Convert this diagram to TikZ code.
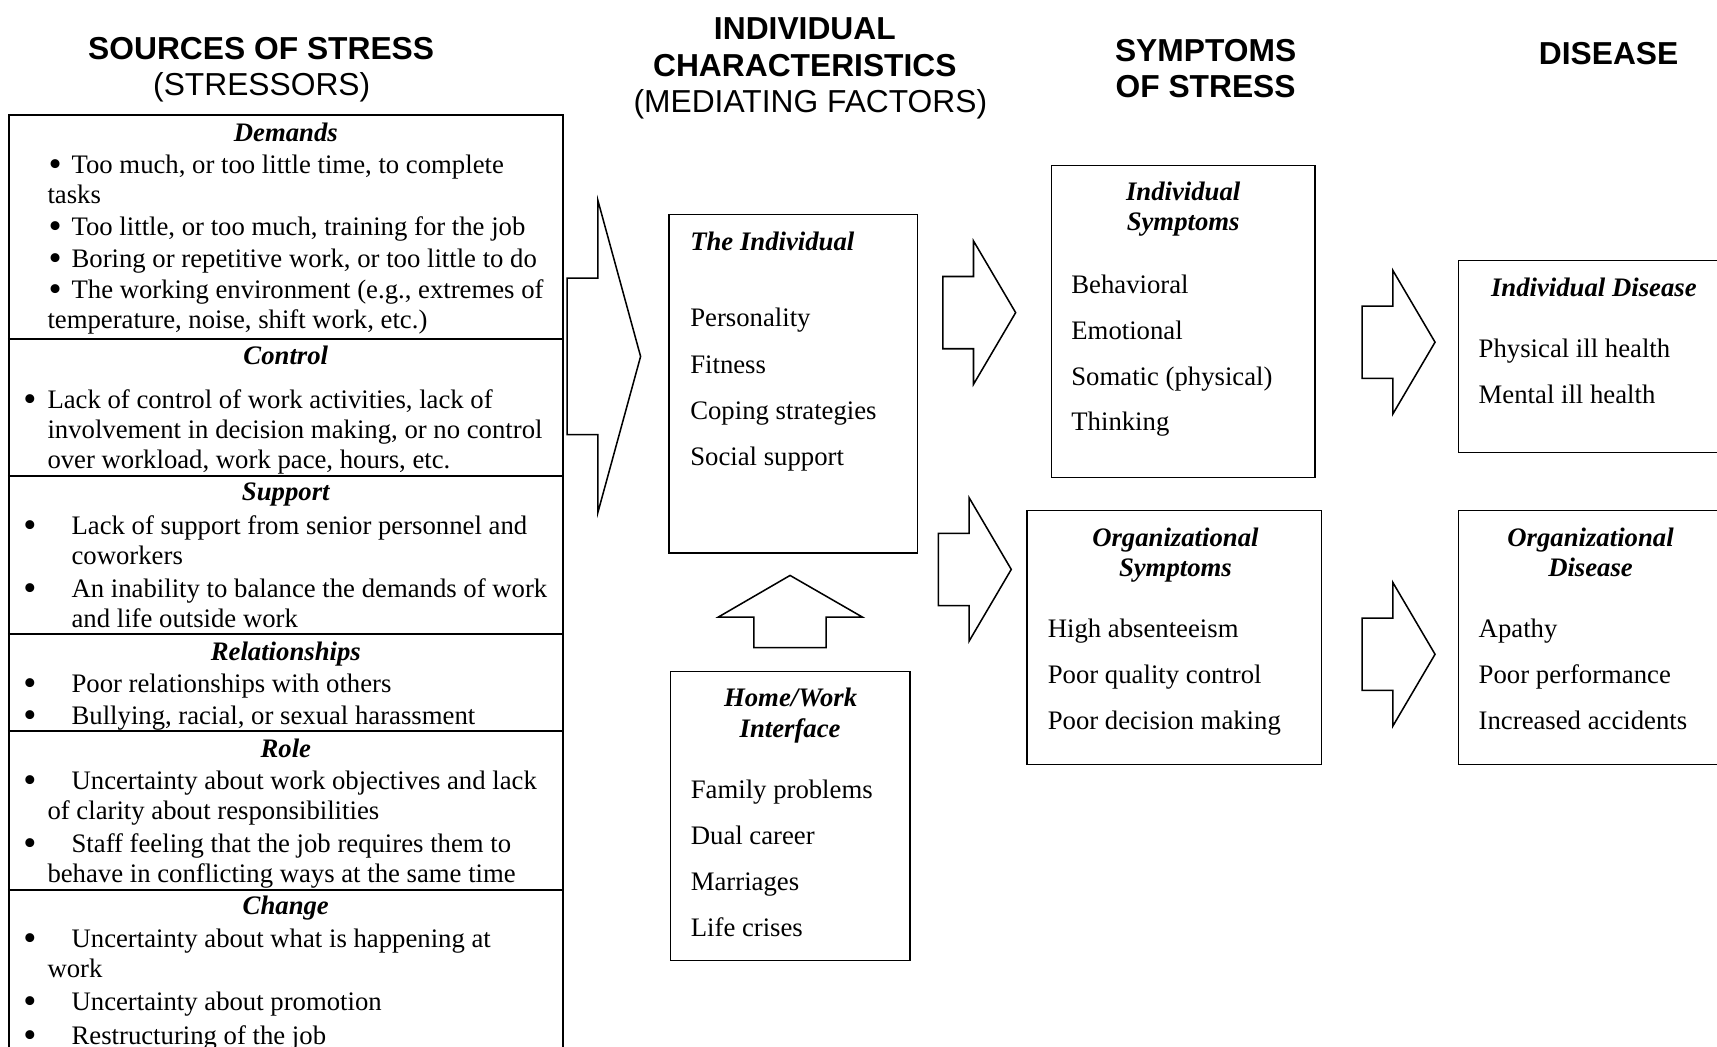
\documentclass[tikz,border=0pt]{standalone}
\usepackage{fontspec}
\setmainfont{Liberation Serif}
\newfontfamily\hdfont{Liberation Sans}
\usetikzlibrary{fit}

% bullet set in a box of given width, text follows
\newcommand\bl[1]{\makebox[#1][l]{\smash{\raisebox{-0.11em}{\scalebox{1.4}{\textbullet}}}}}
% right-pointing block arrow: #1 = x of shaft start, #2 = centre y
\newcommand\rightblock[2]{%
  \draw[blk] (#1,#2-33) -- (#1+28,#2-33) -- (#1+28,#2-65.5) -- (#1+66.5,#2)
    -- (#1+28,#2+65.5) -- (#1+28,#2+33) -- (#1,#2+33) -- cycle;}

\begin{document}
\begin{tikzpicture}[x=0.5pt,y=-0.5pt,
  body/.style={anchor=base west, inner sep=0pt, font=\fontsize{12.2}{14}\selectfont},
  head/.style={anchor=base, inner sep=0pt, font=\fontsize{12.2}{14}\selectfont\bfseries\itshape},
  headl/.style={head, anchor=base west},
  ttl/.style={anchor=base, inner sep=0pt, font=\hdfont\fontsize{14.5}{17}\selectfont\bfseries},
  ttlsub/.style={anchor=base, inner sep=0pt, font=\hdfont\fontsize{14.5}{17}\selectfont},
  box/.style={draw, line width=0.6pt, inner sep=0pt},
  divider/.style={line width=0.9pt},
  blk/.style={draw, line width=0.7pt, line join=miter},
]
\useasboundingbox (0,0) rectangle (1568,956);
\clip (0,0) rectangle (1568,956);

% column titles
\node[ttl]    (t1a) at (238.5,54)  {SOURCES OF STRESS};
\node[ttlsub] (t1b) at (239,87.5)  {(STRESSORS)};
\node[ttl]    (t2a) at (735,36)    {INDIVIDUAL};
\node[ttl]    (t2b) at (735,70)    {CHARACTERISTICS};
\node[ttlsub] (t2c) at (740,103)   {(MEDIATING FACTORS)};
\node[ttl]    (t3a) at (1101,56.5) {SYMPTOMS};
\node[ttl]    (t3b) at (1101,89.2) {OF STRESS};
\node[ttl]    (t4)  at (1469,58.7) {DISEASE};

% sources of stress table
\node[box, line width=0.9pt, fit={(8,105) (514,1000)}] (src) {};
\foreach \y in {310,435,579,667.6,812.8}
  \draw[divider] (src.west |- 0,\y) -- (src.east |- 0,\y);

\node[head] (dem) at (261,129) {Demands};
\node[body] (dem1) at (44,158.8) {\bl{10.5pt}Too much, or too little time, to complete};
\node[body] (dem1b) at (43,185.6) {tasks};
\node[body] (dem2) at (44,215.1) {\bl{10.5pt}Too little, or too much, training for the job};
\node[body] (dem3) at (44,244) {\bl{10.5pt}Boring or repetitive work, or too little to do};
\node[body] (dem4) at (44,272.9) {\bl{10.5pt}The working environment (e.g., extremes of};
\node[body] (dem4b) at (43,300.3) {temperature, noise, shift work, etc.)};

\node[head] (con) at (261,332.8) {Control};
\node[body] (con1) at (21,372.8) {\bl{11pt}Lack of control of work activities, lack of};
\node[body] (con1b) at (43,400.2) {involvement in decision making, or no control};
\node[body] (con1c) at (43,427.6) {over workload, work pace, hours, etc.};

\node[head] (sup) at (261,457.4) {Support};
\node[body] (sup1) at (21,487.8) {\bl{22pt}Lack of support from senior personnel and};
\node[body] (sup1b) at (65,515.3) {coworkers};
\node[body] (sup2) at (21,545.8) {\bl{22pt}An inability to balance the demands of work};
\node[body] (sup2b) at (65,573.1) {and life outside work};

\node[head] (rel) at (261,603.5) {Relationships};
\node[body] (rel1) at (21,632.5) {\bl{22pt}Poor relationships with others};
\node[body] (rel2) at (21,661.4) {\bl{22pt}Bullying, racial, or sexual harassment};

\node[head] (rol) at (261,691.8) {Role};
\node[body] (rol1) at (21,720.8) {\bl{22pt}Uncertainty about work objectives and lack};
\node[body] (rol1b) at (43,748.1) {of clarity about responsibilities};
\node[body] (rol2) at (21,778.6) {\bl{22pt}Staff feeling that the job requires them to};
\node[body] (rol2b) at (43,806) {behave in conflicting ways at the same time};

\node[head] (chg) at (261,834.8) {Change};
\node[body] (chg1) at (21,865.3) {\bl{22pt}Uncertainty about what is happening at};
\node[body] (chg1b) at (43,892.8) {work};
\node[body] (chg2) at (21,923.2) {\bl{22pt}Uncertainty about promotion};
\node[body] (chg3) at (21,953.6) {\bl{22pt}Restructuring of the job};

% the individual
\node[box, fit={(611,196) (838,505)}] (indiv) {};
\node[headl] (indivh) at (630,228.8) {The Individual};
\node[body] (ind1) at (630,298.4) {Personality};
\node[body] (ind2) at (630,340.8) {Fitness};
\node[body] (ind3) at (630,383.1) {Coping strategies};
\node[body] (ind4) at (630,425.5) {Social support};

% home/work interface
\node[box, fit={(612,613) (831,877)}] (home) {};
\node[head] (homeh1) at (722,645.2) {Home/Work};
\node[head] (homeh2) at (721.5,673.5) {Interface};
\node[body] (hom1) at (630.5,729.3) {Family problems};
\node[body] (hom2) at (630.5,771) {Dual career};
\node[body] (hom3) at (630.5,813) {Marriages};
\node[body] (hom4) at (630.5,855) {Life crises};

% symptoms
\node[box, fit={(960,151) (1201,436)}] (isym) {};
\node[head] (isymh1) at (1080.5,183.4) {Individual};
\node[head] (isymh2) at (1080.5,210.6) {Symptoms};
\node[body] (is1) at (978,267.6) {Behavioral};
\node[body] (is2) at (978,310) {Emotional};
\node[body] (is3) at (978,351.6) {Somatic (physical)};
\node[body] (is4) at (978,393.5) {Thinking};

\node[box, fit={(938,466) (1207,698)}] (osym) {};
\node[head] (osymh1) at (1073.4,499.5) {Organizational};
\node[head] (osymh2) at (1073.4,526.5) {Symptoms};
\node[body] (os1) at (956.5,582.5) {High absenteeism};
\node[body] (os2) at (956.5,624) {Poor quality control};
\node[body] (os3) at (956.5,666) {Poor decision making};

% disease
\node[box, fit={(1332,238) (1590,413)}] (idis) {};
\node[head] (idish) at (1455.5,271) {Individual Disease};
\node[body] (id1) at (1350,326.8) {Physical ill health};
\node[body] (id2) at (1350,368.8) {Mental ill health};

\node[box, fit={(1332,466) (1590,698)}] (odis) {};
\node[head] (odish1) at (1452.5,499.5) {Organizational};
\node[head] (odish2) at (1452.5,526.5) {Disease};
\node[body] (od1) at (1350,582.5) {Apathy};
\node[body] (od2) at (1350,624) {Poor performance};
\node[body] (od3) at (1350,666) {Increased accidents};

% block arrows
\draw[blk] (518,254) -- (546,254) -- (546,183) -- (585,325.5) -- (546,468)
  -- (546,397) -- (518,397) -- cycle;
\draw[blk] (688.5,591.5) -- (688.5,563.5) -- (656,563.5) -- (721.5,525.5)
  -- (787.5,563.5) -- (754.5,563.5) -- (754.5,591.5) -- cycle;
\rightblock{861}{285.5}
\rightblock{857}{520}
\rightblock{1244}{312.5}
\rightblock{1244}{597.5}
\end{tikzpicture}
\end{document}
